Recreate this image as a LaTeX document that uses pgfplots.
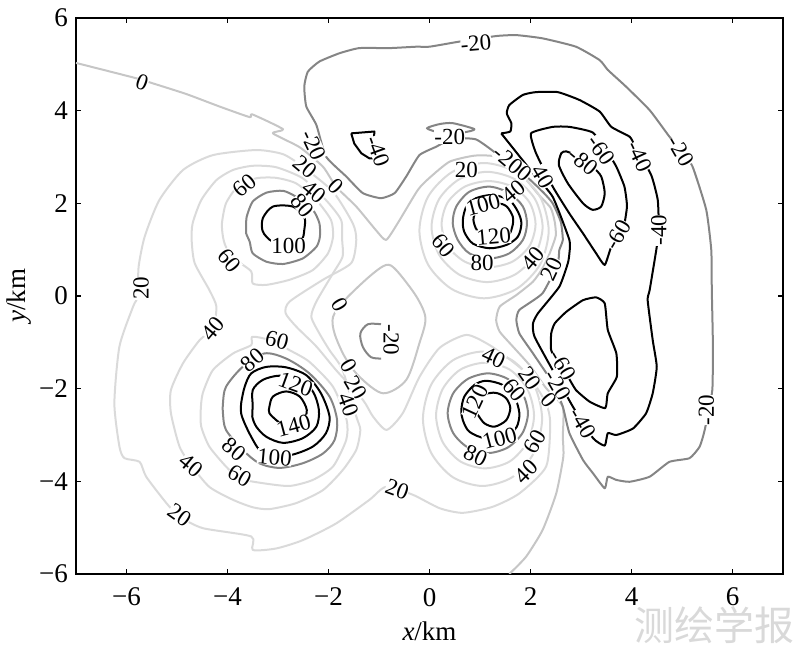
\documentclass[border=0pt]{standalone}
\usepackage{pgfplots}
\pgfplotsset{compat=1.18}
\usepackage{fontspec}
\setmainfont{Liberation Serif}
\newfontfamily\cjk{Noto Sans CJK SC}
\definecolor{czero}{HTML}{C6C6C6}
\definecolor{clight}{HTML}{DADADA}
\definecolor{cmid}{HTML}{858585}
\tikzset{lab/.style={fill=white,inner sep=0pt,font=\fontsize{11.5}{11.5}\selectfont,text=black}}
\newcommand{\lab}[4]{\node[lab,rotate=#3] at (axis cs:#1,#2) {#4};}
\begin{document}
\begin{tikzpicture}
\path[use as bounding box] (-38pt,-39.5pt) rectangle (362pt,287pt);
\begin{axis}[
 scale only axis, width=353.5pt, height=278pt,
 xmin=-7,xmax=7,ymin=-6,ymax=6,
 xtick={-6,-4,-2,0,2,4,6}, ytick={-6,-4,-2,0,2,4,6},
 xticklabels={−6,−4,−2,0,2,4,6}, yticklabels={−6,−4,−2,0,2,4,6},
 tick align=inside, major tick length=2.5pt,
 tick style={black,line width=0.6pt},
 axis line style={line width=1.1pt},
 tick label style={font=\fontsize{13.5}{13.5}\selectfont},
 xticklabel style={yshift=-3.5pt}, yticklabel style={xshift=-0.5pt},
 xlabel={\textit{x}/km}, ylabel={\textit{y}/km},
 label style={font=\fontsize{13.5}{13.5}\selectfont},
 xlabel style={yshift=-1pt}, ylabel style={yshift=-3pt},
 clip=true,
 every axis plot/.append style={line width=1pt,no markers,line join=round},
]
% 0 outer
\addplot[czero,smooth,tension=0.35] coordinates {(-7,5.03)(-5.81,4.70)(-5.51,4.60)(-4.82,4.36)(-4.16,4.09)(-3.56,3.86)(-3.51,3.92)(-2.90,3.60)(-3.10,3.51)(-2.57,3.21)(-2.11,2.79)(-1.85,2.36)(-1.45,1.93)(-1.06,1.42)(-0.86,1.21)(-0.63,1.57)(-0.23,2.29)(0.0,2.55)(0.4,2.90)(0.9,3.03)(1.35,3.0)(1.8,2.65)(2.15,2.2)(2.40,1.9)(2.48,1.6)(2.5,1.3)(2.38,0.92)(2.24,0.60)(2.05,0.31)(1.72,0.02)(1.39,-0.23)(1.32,-0.52)(1.39,-0.77)(1.65,-1.09)(1.98,-1.49)(2.31,-1.99)(2.64,-2.39)(2.64,-3.04)(2.65,-3.47)(2.51,-4.26)(2.24,-5.05)(1.91,-5.63)(1.58,-6)};
% 0 island
\addplot[czero,smooth cycle,tension=0.5] coordinates {(-0.86,0.67)(-1.19,0.42)(-1.68,-0.09)(-1.91,-0.45)(-1.88,-0.81)(-1.68,-1.31)(-1.39,-1.74)(-0.92,-2.10)(-0.46,-1.81)(-0.20,-1.02)(-0.08,-0.48)(-0.26,-0.01)(-0.66,0.56)};
% 20
\addplot[clight,smooth cycle,tension=0.4] coordinates {(-5.78,-0.01)(-5.76,0.63)(-5.64,1.28)(-5.35,2.07)(-4.88,2.72)(-4.29,3.04)(-3.43,3.15)(-2.90,3.06)(-2.51,2.79)(-1.91,2.25)(-1.52,1.57)(-1.45,1.21)(-1.55,0.71)(-2.11,0.35)(-2.77,-0.12)(-2.85,-0.37)(-2.64,-0.66)(-2.24,-1.09)(-1.85,-1.60)(-1.32,-2.24)(-1.12,-2.60)(-0.85,-2.89)(-0.53,-2.53)(-0.20,-1.75)(0.20,-1.12)(0.73,-0.84)(1.19,-1.06)(1.65,-1.42)(1.98,-1.74)(2.31,-2.32)(2.39,-2.75)(2.31,-3.68)(1.78,-4.26)(1.25,-4.55)(0.66,-4.68)(0.20,-4.58)(-0.33,-4.29)(-0.86,-4.12)(-1.19,-4.40)(-1.85,-4.91)(-2.51,-5.27)(-3.04,-5.45)(-3.50,-5.48)(-3.53,-5.19)(-4.49,-5.01)(-4.95,-4.76)(-5.21,-4.47)(-5.61,-3.90)(-5.74,-3.58)(-6.04,-3.50)(-6.14,-3.25)(-6.24,-2.32)(-6.14,-1.09)(-5.87,-0.23)};
\addplot[clight,smooth cycle] coordinates {(2.36,1.41)(2.19,2.14)(1.72,2.67)(1.08,2.87)(0.44,2.67)(-0.03,2.14)(-0.20,1.41)(-0.03,0.68)(0.44,0.15)(1.08,-0.05)(1.72,0.15)(2.19,0.68)};
% 40
\addplot[clight,smooth cycle,tension=0.4] coordinates {(-4.71,1.21)(-4.69,1.57)(-4.52,2.07)(-4.22,2.50)(-3.89,2.72)(-3.50,2.81)(-3.04,2.78)(-2.51,2.54)(-2.05,2.07)(-1.75,1.64)(-1.73,1.21)(-1.72,0.85)(-1.91,0.49)(-2.24,-0.12)(-2.34,-0.45)(-2.18,-0.81)(-1.98,-1.17)(-1.72,-1.60)(-1.45,-2.60)(-1.37,-2.89)(-1.45,-3.32)(-1.72,-3.76)(-2.11,-4.19)(-2.64,-4.47)(-3.17,-4.60)(-3.50,-4.56)(-3.89,-4.40)(-4.36,-4.12)(-4.72,-3.65)(-4.95,-3.25)(-5.12,-2.53)(-5.12,-2.03)(-4.88,-1.45)(-4.55,-0.95)(-4.29,-0.70)(-4.22,-0.23)(-4.36,0.13)(-4.65,0.71)};
\addplot[clight,smooth cycle] coordinates {(2.24,1.49)(2.09,2.09)(1.69,2.52)(1.14,2.68)(0.59,2.52)(0.19,2.09)(0.04,1.49)(0.19,0.89)(0.59,0.46)(1.14,0.30)(1.69,0.46)(2.09,0.89)};
\addplot[clight,smooth cycle] coordinates {(2.23,-2.65)(2.07,-1.92)(1.64,-1.39)(1.05,-1.20)(0.46,-1.39)(0.03,-1.92)(-0.13,-2.65)(0.03,-3.38)(0.46,-3.91)(1.05,-4.10)(1.64,-3.91)(2.07,-3.38)};
% 60
\addplot[clight,smooth cycle,tension=0.4] coordinates {(-4.11,1.57)(-4.03,2.0)(-3.80,2.36)(-3.43,2.54)(-3.04,2.55)(-2.64,2.43)(-2.24,2.07)(-1.95,1.64)(-1.91,1.28)(-2.01,0.92)(-2.31,0.56)(-2.77,0.35)(-3.23,0.24)(-3.50,0.27)(-3.53,0.53)(-3.83,0.78)(-4.03,1.06)(-4.09,1.28)};
\addplot[clight,smooth cycle,tension=0.4] coordinates {(-4.53,-2.46)(-4.49,-2.10)(-4.29,-1.60)(-3.89,-1.24)(-3.53,-1.06)(-3.51,-0.88)(-3.17,-0.95)(-2.77,-1.17)(-2.38,-1.42)(-1.91,-1.96)(-1.64,-2.68)(-1.65,-3.11)(-1.91,-3.68)(-2.31,-3.97)(-2.77,-4.10)(-3.30,-4.04)(-3.76,-3.94)(-4.03,-3.68)(-4.36,-3.25)(-4.52,-2.82)};
\addplot[clight,smooth cycle] coordinates {(2.10,1.55)(1.98,2.02)(1.64,2.36)(1.17,2.48)(0.70,2.36)(0.36,2.02)(0.24,1.55)(0.36,1.08)(0.70,0.74)(1.17,0.62)(1.64,0.74)(1.98,1.08)};
\addplot[clight,smooth cycle] coordinates {(2.07,-2.58)(1.94,-2.01)(1.59,-1.59)(1.10,-1.44)(0.61,-1.59)(0.26,-2.01)(0.13,-2.58)(0.26,-3.15)(0.61,-3.57)(1.10,-3.72)(1.59,-3.57)(1.94,-3.15)};
% 80
\addplot[cmid,smooth cycle,tension=0.4] coordinates {(-3.63,1.50)(-3.62,1.71)(-3.50,2.04)(-3.23,2.23)(-2.90,2.27)(-2.64,2.14)(-2.31,1.86)(-2.18,1.57)(-2.17,1.28)(-2.24,1.06)(-2.51,0.81)(-2.90,0.69)(-3.23,0.74)(-3.50,0.92)(-3.56,1.17)(-3.63,1.35)};
\addplot[cmid,smooth cycle] coordinates {(0.46,1.57)(0.53,1.93)(0.79,2.25)(1.19,2.36)(1.58,2.22)(1.85,1.93)(1.93,1.57)(1.85,1.21)(1.58,0.92)(1.19,0.81)(0.79,0.92)(0.56,1.21)};
\addplot[cmid,smooth cycle,tension=0.5] coordinates {(-4.09,-2.32)(-4.03,-1.96)(-3.70,-1.53)(-3.27,-1.24)(-2.84,-1.35)(-2.38,-1.67)(-1.98,-2.17)(-1.83,-2.68)(-1.88,-3.11)(-2.11,-3.40)(-2.51,-3.61)(-2.97,-3.71)(-3.37,-3.61)(-3.70,-3.32)(-4.03,-2.89)(-4.09,-2.53)};
\addplot[cmid,smooth cycle] coordinates {(1.95,-2.53)(1.84,-2.10)(1.55,-1.79)(1.16,-1.67)(0.76,-1.79)(0.47,-2.10)(0.36,-2.53)(0.47,-2.96)(0.76,-3.27)(1.16,-3.39)(1.55,-3.27)(1.84,-2.96)};
% -20
\addplot[cmid,smooth cycle,tension=0.3] coordinates {(0,5.38)(-0.26,5.38)(-0.79,5.35)(-1.39,5.35)(-1.78,5.24)(-2.18,5.06)(-2.41,4.84)(-2.48,4.52)(-2.44,4.09)(-2.24,3.69)(-2.05,3.01)(-1.65,2.58)(-1.32,2.22)(-0.96,2.11)(-0.69,2.22)(-0.46,2.58)(-0.20,3.04)(0.13,3.22)(0.46,3.40)(0.92,3.38)(1.32,3.08)(1.78,2.72)(2.24,2.25)(2.44,2.0)(2.6,1.6)(2.64,1.21)(2.57,0.99)(2.54,0.71)(2.24,0.06)(1.78,-0.30)(1.72,-0.52)(1.78,-0.81)(2.05,-1.24)(2.44,-1.88)(2.64,-2.39)(2.77,-2.96)(3.04,-3.54)(3.24,-3.83)(3.47,-4.15)(3.53,-3.90)(3.70,-3.97)(3.96,-4.01)(4.36,-3.90)(4.75,-3.58)(5.15,-3.50)(5.35,-3.25)(5.45,-2.89)(5.60,-2.03)(5.61,-0.95)(5.59,0.13)(5.58,0.99)(5.48,1.86)(5.21,2.79)(4.98,3.15)(4.75,3.44)(4.36,4.01)(3.89,4.52)(3.53,4.88)(3.37,5.09)(2.90,5.38)(2.24,5.56)(1.72,5.63)(1.32,5.61)(0.59,5.49)};
\addplot[cmid,smooth cycle,tension=0.4] coordinates {(-0.05,3.62)(0.20,3.71)(0.46,3.73)(0.89,3.60)(0.66,3.53)(0.20,3.53)};
\addplot[cmid,smooth] coordinates {(-0.96,-0.61)(-1.22,-0.61)(-1.37,-0.81)(-1.32,-1.10)(-1.16,-1.32)(-0.96,-1.35)};
% 100, 120, 140
\addplot[black,smooth cycle,tension=0.5] coordinates {(-2.48,1.42)(-2.54,1.21)(-2.84,1.14)(-3.10,1.17)(-3.23,1.28)(-3.31,1.42)(-3.30,1.68)(-3.10,1.93)(-2.71,1.93)(-2.48,1.71)};
\addplot[black,smooth cycle] coordinates {(0.66,1.64)(0.73,1.93)(0.92,2.11)(1.25,2.18)(1.58,2.07)(1.75,1.82)(1.82,1.57)(1.75,1.28)(1.52,1.10)(1.19,1.03)(0.86,1.13)(0.69,1.38)};
\addplot[black,smooth cycle] coordinates {(0.87,1.64)(0.92,1.82)(1.06,1.93)(1.35,2.0)(1.53,1.93)(1.65,1.71)(1.64,1.50)(1.53,1.28)(1.12,1.28)(0.94,1.42)};
\addplot[black,smooth cycle] coordinates {(-3.73,-2.32)(-3.66,-1.96)(-3.53,-1.67)(-3.23,-1.53)(-2.84,-1.54)(-2.44,-1.71)(-2.15,-2.10)(-1.98,-2.60)(-2.05,-2.96)(-2.31,-3.25)(-2.74,-3.43)(-3.17,-3.43)(-3.37,-3.32)(-3.53,-3.04)(-3.66,-2.75)(-3.73,-2.53)};
\addplot[black,smooth cycle] coordinates {(-3.50,-2.39)(-3.50,-2.03)(-3.30,-1.81)(-2.97,-1.72)(-2.60,-1.80)(-2.31,-2.06)(-2.19,-2.46)(-2.24,-2.82)(-2.51,-3.07)(-2.90,-3.17)(-3.23,-3.04)(-3.43,-2.82)(-3.51,-2.60)};
\addplot[black,smooth cycle] coordinates {(-3.17,-2.39)(-3.10,-2.17)(-2.84,-2.06)(-2.57,-2.17)(-2.43,-2.46)(-2.51,-2.71)(-2.77,-2.89)(-3.0,-2.71)(-3.17,-2.53)};
\addplot[black,smooth cycle] coordinates {(0.63,-2.46)(0.69,-2.17)(0.89,-1.92)(1.12,-1.83)(1.45,-1.92)(1.68,-2.17)(1.78,-2.53)(1.73,-2.82)(1.58,-2.96)(1.12,-3.07)(0.79,-2.93)(0.66,-2.68)};
\addplot[black,smooth cycle] coordinates {(0.96,-2.57)(1.09,-2.75)(1.29,-2.82)(1.52,-2.68)(1.60,-2.42)(1.52,-2.21)(1.35,-2.10)(1.16,-2.10)(0.89,-2.24)(0.86,-2.42)};
% -40
\addplot[black,sharp plot] coordinates {(-1.55,3.51)(-1.09,3.55)(-1.11,3.30)(-0.96,2.97)(-1.19,2.97)(-1.35,3.08)(-1.49,3.29)(-1.55,3.51)};
\addplot[black,smooth,tension=0.3] coordinates {(1.42,3.51)(1.60,3.55)(1.62,3.73)(1.53,3.94)(1.58,4.12)(1.85,4.34)(2.11,4.40)(2.54,4.40)(2.97,4.23)(3.37,3.98)(3.60,3.65)(3.96,3.44)(4.06,3.26)(4.39,2.61)(4.52,2.07)(4.54,1.42)(4.49,0.99)(4.36,0.13)(4.32,-0.09)(4.42,-0.95)(4.50,-1.53)(4.42,-2.10)(4.29,-2.53)(4.03,-2.86)(3.70,-3.00)(3.53,-2.96)(3.47,-3.23)(3.24,-3.07)(2.84,-2.39)(2.51,-1.74)(2.08,-0.88)(2.05,-0.59)(2.15,-0.37)(2.57,0.20)(2.74,0.71)(2.77,0.92)(2.77,1.21)(2.44,2.14)(2.05,2.65)(1.42,3.51)};
% -60
\addplot[black,smooth cycle,tension=0.3] coordinates {(2.01,3.51)(2.44,3.65)(2.77,3.65)(3.23,3.53)(3.50,3.15)(3.70,2.79)(3.86,2.36)(3.91,1.93)(3.83,1.42)(3.60,1.06)(3.47,0.67)(3.30,0.92)(3.04,1.35)(2.77,1.78)(2.44,2.36)(2.11,3.08)};
\addplot[black,smooth cycle,tension=0.3] coordinates {(2.41,-1.17)(2.41,-0.81)(2.48,-0.59)(2.71,-0.34)(3.04,-0.09)(3.30,-0.03)(3.47,-0.16)(3.53,-0.73)(3.70,-1.24)(3.71,-1.74)(3.53,-2.10)(3.48,-2.42)(3.17,-2.28)(2.90,-2.03)(2.74,-1.74)(2.57,-1.49)};
% -80
\addplot[black,smooth cycle,tension=0.4] coordinates {(2.71,3.12)(2.61,3.08)(2.56,2.83)(2.74,2.43)(3.04,2.0)(3.23,1.86)(3.40,1.93)(3.47,2.22)(3.40,2.58)(3.23,2.79)(2.97,3.0)};
% labels
\lab{-5.69}{4.60}{-20}{0}
\lab{-2.29}{3.26}{-65}{-20}
\lab{-2.46}{2.79}{-40}{20}
\lab{-2.28}{2.25}{-40}{40}
\lab{-1.85}{2.36}{-45}{0}
\lab{-3.66}{2.38}{40}{60}
\lab{-2.51}{1.96}{-50}{80}
\lab{-2.79}{1.08}{0}{100}
\lab{-3.96}{0.76}{-50}{60}
\lab{-5.71}{0.17}{90}{20}
\lab{0.92}{5.45}{5}{-20}
\lab{0.40}{3.44}{0}{-20}
\lab{1.65}{2.86}{-40}{-200}
\lab{2.25}{2.58}{-60}{40}
\lab{0.73}{2.73}{0}{20}
\lab{1.66}{2.25}{40}{40}
\lab{1.06}{1.96}{15}{100}
\lab{1.27}{1.28}{5}{120}
\lab{0.28}{1.09}{-50}{60}
\lab{1.04}{0.72}{0}{80}
\lab{2.05}{0.81}{50}{40}
\lab{2.42}{0.58}{65}{20}
\lab{3.40}{3.15}{-55}{-60}
\lab{3.04}{2.90}{-40}{-80}
\lab{4.16}{3.01}{-65}{-40}
\lab{4.54}{1.42}{90}{-40}
\lab{3.73}{1.32}{60}{-60}
\lab{4.98}{3.12}{-60}{-20}
\lab{-1.02}{3.13}{-70}{-40}
\lab{-0.76}{-0.95}{-90}{-20}
\lab{-1.78}{-0.19}{-60}{0}
\lab{-4.29}{-0.70}{50}{40}
\lab{-3.02}{-0.96}{-15}{60}
\lab{-3.51}{-1.38}{40}{80}
\lab{-2.65}{-1.90}{-20}{120}
\lab{-2.69}{-2.81}{15}{140}
\lab{-3.86}{-3.31}{-40}{80}
\lab{-3.07}{-3.48}{-5}{100}
\lab{-3.76}{-3.88}{-30}{60}
\lab{-4.72}{-3.66}{-40}{40}
\lab{-4.95}{-4.73}{-35}{20}
\lab{-0.64}{-4.17}{-20}{20}
\lab{-1.60}{-1.51}{-60}{0}
\lab{-1.45}{-1.99}{-60}{20}
\lab{-1.60}{-2.35}{-70}{40}
\lab{1.27}{-1.33}{-25}{40}
\lab{1.99}{-1.78}{-55}{20}
\lab{1.68}{-2.03}{-50}{60}
\lab{2.64}{-1.49}{-60}{-60}
\lab{2.54}{-1.92}{-60}{-20}
\lab{2.36}{-2.24}{-50}{0}
\lab{3.04}{-2.75}{-60}{-40}
\lab{0.91}{-2.28}{65}{120}
\lab{1.39}{-3.07}{15}{100}
\lab{0.91}{-3.45}{-25}{80}
\lab{2.08}{-3.14}{60}{60}
\lab{1.91}{-3.79}{45}{40}
\lab{5.48}{-2.46}{90}{-20}
\end{axis}
\node[text=black!15,font=\cjk\fontsize{20}{20}\selectfont,inner sep=0pt] at (319.5pt,-25.5pt) {测绘学报};
\end{tikzpicture}
\end{document}
